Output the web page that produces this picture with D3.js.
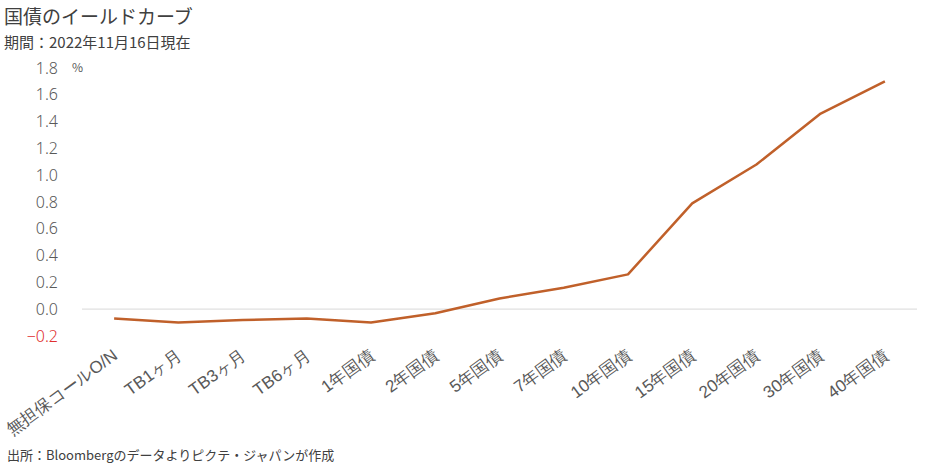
<!DOCTYPE html>
<html><head><meta charset="utf-8">
<script src="https://cdn.jsdelivr.net/npm/d3@7/dist/d3.min.js"></script>
<style>
body{margin:0;background:#fff;}
svg{display:block;font-family:"Noto Sans CJK JP","Noto Sans",sans-serif;}
</style></head>
<body><svg id="c" width="930" height="468"></svg>
<script>
const categories = ["無担保コールO/N","TB1ヶ月","TB3ヶ月","TB6ヶ月","1年国債","2年国債","5年国債","7年国債","10年国債","15年国債","20年国債","30年国債","40年国債"];
const yields = [-0.07,-0.10,-0.08,-0.07,-0.10,-0.03,0.08,0.16,0.26,0.79,1.08,1.46,1.70];
const yTicks = [-0.2,0.0,0.2,0.4,0.6,0.8,1.0,1.2,1.4,1.6,1.8];
const title = "国債のイールドカーブ";
const subtitle = "期間：2022年11月16日現在";
const source = "出所：Bloombergのデータよりピクテ・ジャパンが作成";

(function(){
const svg = d3.select("#c");
const mL = 82, mR = 917, mT = 68, mB = 336;
const x = d3.scaleBand().domain(categories).range([mL,mR]);
const y = d3.scaleLinear().domain([-0.2,1.8]).range([mB,mT]);

svg.append("text").attr("x",4).attr("y",24).attr("font-size",19).attr("fill","#404040").text(title);
svg.append("text").attr("x",4).attr("y",48).attr("font-size",15).attr("fill","#404040").text(subtitle);
svg.append("text").attr("x",7).attr("y",460).attr("font-size",13).attr("fill","#404040").text(source);

svg.append("line").attr("x1",mL).attr("x2",mR).attr("y1",y(0)).attr("y2",y(0))
  .attr("stroke","#e0e0e0").attr("stroke-width",1.2);

const yAxis = d3.axisLeft(y).tickValues(yTicks).tickFormat(d3.format(".1f")).tickSize(0).tickPadding(0);
const ya = svg.append("g").attr("transform","translate(58,0)").call(yAxis);
ya.select(".domain").remove();
ya.selectAll("text").attr("font-size",16).attr("fill",d=>d<0?"#e03030":"#595959")
  .attr("font-family","'Noto Sans',sans-serif").attr("font-weight",300)
  .text(d=>d<0?"−"+d3.format(".1f")(-d):d3.format(".1f")(d));
svg.append("text").attr("x",72).attr("y",y(1.8)+4).attr("font-size",12).attr("fill","#595959").text("%");

const xAxis = d3.axisBottom(x).tickSize(0).tickPadding(0);
const xa = svg.append("g").attr("transform",`translate(0,${mB+17})`).call(xAxis);
xa.select(".domain").remove();
xa.selectAll("text").attr("font-size",17).attr("fill","#595959").attr("font-weight",300)
  .attr("text-anchor","end").attr("dy","0.35em")
  .attr("transform","translate(1,0) rotate(-36)");

const line = d3.line().x((d,i)=>x(categories[i])+x.bandwidth()/2).y(d=>y(d));
svg.append("path").datum(yields).attr("d",line).attr("fill","none")
  .attr("stroke","#c0602a").attr("stroke-width",2.5).attr("stroke-linejoin","round");
})();
</script></body></html>
